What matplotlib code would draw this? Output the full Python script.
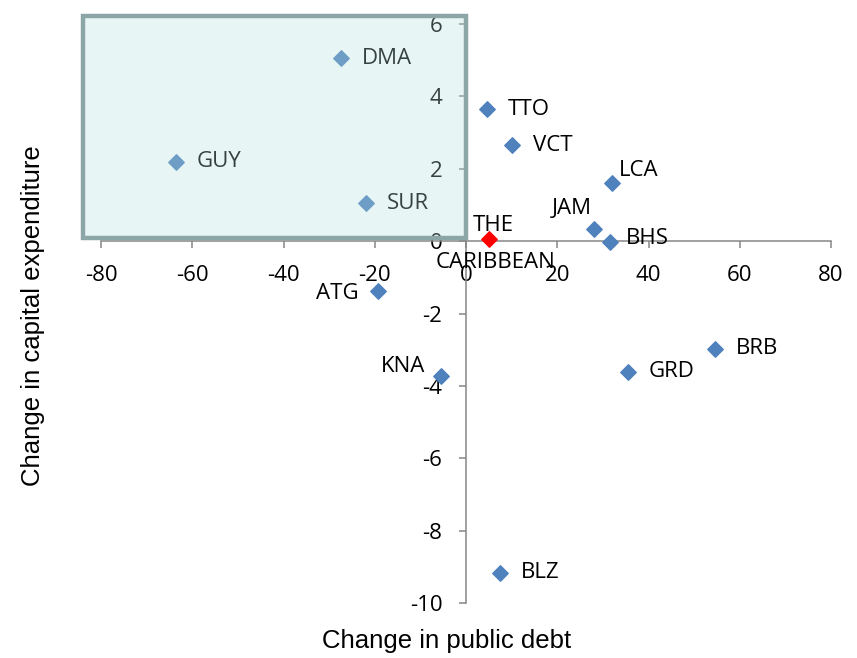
import matplotlib.pyplot as plt
from matplotlib.patches import Rectangle

plt.rcParams['axes.unicode_minus'] = False

# change in public debt (x) vs change in capital expenditure (y)
codes = ['DMA', 'TTO', 'VCT', 'GUY', 'LCA', 'SUR', 'JAM', 'BHS',
         'ATG', 'BRB', 'GRD', 'KNA', 'BLZ']
debt = [-27.4, 4.6, 10.1, -63.6, 32.0, -21.9, 28.1, 31.6,
        -19.3, 54.6, 35.5, -5.5, 7.5]
capex = [5.05, 3.64, 2.65, 2.2, 1.6, 1.05, 0.33, -0.03,
         -1.38, -2.98, -3.61, -3.72, -9.16]
car_debt, car_capex = 5.0, 0.05

xticks = [-80, -60, -40, -20, 0, 20, 40, 60, 80]
yticks = [-10, -8, -6, -4, -2, 0, 2, 4, 6]

# label offsets in points and alignment
offs = {'JAM': (-1.5, 15, 'right'), 'ATG': (-14, -2, 'right'),
        'KNA': (-11.5, 6.5, 'right'), 'LCA': (5, 9, 'left'),
        'BHS': (11, 3, 'left')}

lblfont = 'Open Sans'
fs = 16
fig = plt.figure(figsize=(8.57, 6.58), dpi=100)
ax = fig.add_axes([101/857, 55/658, 730/857, 579/658])
ax.set_xlim(-80, 80); ax.set_ylim(-10, 6)

for s in ['top', 'right']: ax.spines[s].set_visible(False)
for s in ['left', 'bottom']:
    ax.spines[s].set_position(('data', 0))
    ax.spines[s].set_color('#868686'); ax.spines[s].set_linewidth(1.1)
ax.set_xticks(xticks); ax.set_yticks(yticks)
ax.tick_params(axis='x', direction='out', length=5, width=1.1, color='#868686', pad=12)
ax.tick_params(axis='y', direction='out', length=5, width=1.1, color='#868686', pad=12)
for t in ax.get_xticklabels() + ax.get_yticklabels():
    t.set_fontfamily(lblfont); t.set_fontsize(fs)

ax.scatter(debt, capex, marker='D', s=62, color='#4F81BD', zorder=3, clip_on=False)
ax.scatter([car_debt], [car_capex], marker='D', s=62, color='#FF0000', zorder=3)

for c, x, y in zip(codes, debt, capex):
    dx, dy, ha = offs.get(c, (15, 0, 'left'))
    ax.annotate(c, (x, y), xytext=(dx, dy), textcoords='offset points',
                ha=ha, va='center', fontsize=fs, fontfamily=lblfont)
ax.annotate('THE', (car_debt, car_capex), xytext=(-11.5, 10), textcoords='offset points',
            ha='left', va='center', fontsize=fs, fontfamily=lblfont)
ax.annotate('CARIBBEAN', (car_debt, car_capex), xytext=(4.5, -17), textcoords='offset points',
            ha='center', va='center', fontsize=fs, fontfamily=lblfont)

# shaded box over the upper-left quadrant
ax.add_patch(Rectangle((-83.9, 0.08), 83.9, 6.15, facecolor='#B6DEDE', alpha=0.3,
                       edgecolor='none', zorder=5, clip_on=False))
ax.add_patch(Rectangle((-83.9, 0.08), 83.9, 6.15, facecolor='none',
                       edgecolor='#8CA6A8', linewidth=3.2, zorder=6, clip_on=False))

fig.text(447/857, 1 - 641/658, 'Change in public debt', ha='center', va='center',
         fontsize=18.5, fontfamily='Liberation Sans')
fig.text(33/857, 1 - 316/658, 'Change in capital expenditure', ha='center', va='center',
         rotation=90, fontsize=18.5, fontfamily='Liberation Sans')

fig.savefig('out.png', dpi=100)
